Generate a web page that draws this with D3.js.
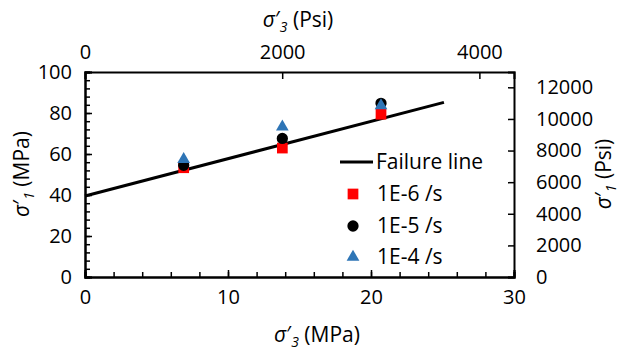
<!DOCTYPE html>
<html>
<head>
<meta charset="utf-8">
<script src="https://cdn.jsdelivr.net/npm/d3@7"></script>
<style>
  body { margin: 0; background: #fff; }
  text { font-family: "Open Sans", sans-serif; fill: #000; }
</style>
</head>
<body>
<script>
// confining stress sigma'3 (MPa) for the three tests
var sigma3 = [6.9, 13.8, 20.7];
var rate6 = [53.3, 62.9, 79.4];   // 1E-6 /s
var rate5 = [54.5, 67.6, 84.7];   // 1E-5 /s
var rate4 = [57.4, 73.2, 83.6];   // 1E-4 /s
var failureLine = [[0, 39.5], [25.1, 85.2]];
var xTicks = [0, 10, 20, 30];
var yTicks = [0, 20, 40, 60, 80, 100];
var topTicks = [0, 2000, 4000];
var rightTicks = [0, 2000, 4000, 6000, 8000, 10000, 12000];
var legendNames = ['Failure line', '1E-6 /s', '1E-5 /s', '1E-4 /s'];

var margin = { top: 72, left: 85, right: 105, bottom: 74 },
    width = 619 - margin.left - margin.right,
    height = 351 - margin.top - margin.bottom;

var svg = d3.select('body').append('svg')
    .attr('width', 619).attr('height', 351);
var g = svg.append('g')
    .attr('transform', 'translate(' + margin.left + ',' + margin.top + ')');

var x = d3.scaleLinear().domain([0, 30]).range([0, width]);
var y = d3.scaleLinear().domain([0, 100]).range([height, 0]);
var xPsi = d3.scaleLinear().domain([0, 30 * 145.038]).range([0, width]);
var yPsi = d3.scaleLinear().domain([0, 12970]).range([height, 0]);
var fmt = d3.format('d');

function styleAxis(sel) {
    sel.attr('font-size', 20).attr('font-family', null);
    sel.select('.domain').attr('stroke', '#000').attr('stroke-width', 2);
    sel.selectAll('.tick line').attr('stroke', '#000').attr('stroke-width', 1.5);
}

// minor ticks
g.append('g').attr('transform', 'translate(0,' + height + ')')
    .call(d3.axisBottom(x).tickValues(d3.range(0, 31, 2)).tickSize(-5).tickFormat(''))
    .call(styleAxis);
g.append('g')
    .call(d3.axisLeft(y).tickValues(d3.range(0, 101, 4)).tickSize(-5).tickFormat(''))
    .call(styleAxis);

// major axes
var bottomAxis = g.append('g').attr('transform', 'translate(0,' + height + ')')
    .call(d3.axisBottom(x).tickValues(xTicks).tickSize(-7).tickFormat(fmt))
    .call(styleAxis);
bottomAxis.selectAll('.tick text').attr('y', 13);

var leftAxis = g.append('g')
    .call(d3.axisLeft(y).tickValues(yTicks).tickSize(-7).tickFormat(fmt))
    .call(styleAxis);
leftAxis.selectAll('.tick text').attr('x', -13);

var topAxis = g.append('g')
    .call(d3.axisTop(xPsi).tickValues(topTicks).tickSize(-7).tickFormat(fmt))
    .call(styleAxis);
topAxis.selectAll('.tick text').attr('y', -13);

var rightAxis = g.append('g').attr('transform', 'translate(' + width + ',0)')
    .call(d3.axisRight(yPsi).tickValues(rightTicks).tickSize(-6).tickFormat(fmt))
    .call(styleAxis);
rightAxis.selectAll('.tick text').attr('x', 22);

// failure line
var line = d3.line()
    .x(function(d) { return x(d[0]); })
    .y(function(d) { return y(d[1]); });
g.append('path')
    .datum(failureLine)
    .attr('d', line)
    .attr('fill', 'none')
    .attr('stroke', '#000')
    .attr('stroke-width', 3);

var square = d3.symbol().type(d3.symbolSquare).size(115);
var circle = d3.symbol().type(d3.symbolCircle).size(100);
var triangle = d3.symbol().type(d3.symbolTriangle).size(70);

function drawSeries(vals, sym, color) {
    g.append('g').selectAll('path')
        .data(vals)
        .enter().append('path')
        .attr('d', sym)
        .attr('transform', function(d, i) { return 'translate(' + x(sigma3[i]) + ',' + y(d) + ')'; })
        .attr('fill', color);
}
drawSeries(rate6, square, '#ff0000');
drawSeries(rate5, circle, '#000000');
drawSeries(rate4, triangle, '#2e75b6');

// legend
var legend = svg.append('g').attr('transform', 'translate(340,0)');
var legendY = [162, 194, 226, 257];
legend.append('line')
    .attr('x1', 0).attr('x2', 33)
    .attr('y1', legendY[0]).attr('y2', legendY[0])
    .attr('stroke', '#000').attr('stroke-width', 3);
legend.append('path').attr('d', square).attr('fill', '#ff0000')
    .attr('transform', 'translate(13,' + legendY[1] + ')');
legend.append('path').attr('d', circle).attr('fill', '#000')
    .attr('transform', 'translate(13,' + legendY[2] + ')');
legend.append('path').attr('d', triangle).attr('fill', '#2e75b6')
    .attr('transform', 'translate(13,' + legendY[3] + ')');
legend.selectAll('text.leg')
    .data(legendNames)
    .enter().append('text')
    .attr('class', 'leg')
    .attr('x', function(d, i) { return i == 0 ? 36 : 37; })
    .attr('y', function(d, i) { return legendY[i]; })
    .attr('dy', '0.35em')
    .style('font-size', '21px')
    .text(function(d) { return d; });

// axis titles
function sigmaTitle(sel, sub, unit) {
    sel.append('tspan').style('font-style', 'italic').text('σ');
    sel.append('tspan').text('′');
    sel.append('tspan').style('font-style', 'italic').style('font-size', '14px')
        .attr('dy', '5').text(sub);
    sel.append('tspan').attr('dy', '-5').text(' (' + unit + ')');
}
svg.append('text').attr('x', 317).attr('y', 342).attr('text-anchor', 'middle')
    .style('font-size', '21px').call(sigmaTitle, '3', 'MPa');
svg.append('text').attr('x', 298).attr('y', 27).attr('text-anchor', 'middle')
    .style('font-size', '21px').call(sigmaTitle, '3', 'Psi');
svg.append('text').attr('transform', 'translate(29,174) rotate(-90)').attr('text-anchor', 'middle')
    .style('font-size', '21px').call(sigmaTitle, '1', 'MPa');
svg.append('text').attr('transform', 'translate(611,174) rotate(-90)').attr('text-anchor', 'middle')
    .style('font-size', '21px').call(sigmaTitle, '1', 'Psi');
</script>
</body>
</html>
